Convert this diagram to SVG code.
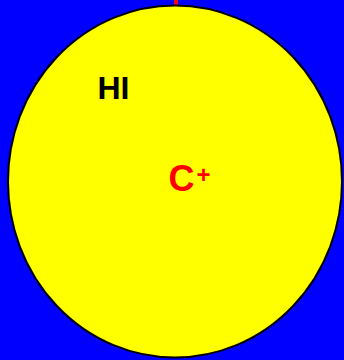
<svg xmlns="http://www.w3.org/2000/svg" width="344" height="360" viewBox="0 0 344 360">
<style>
.lbl{font-family:"Liberation Sans",Arial,sans-serif;font-weight:bold}
</style>
<rect width="344" height="360" fill="#0000ff"/>
<g id="connectors">
<line x1="176" y1="0" x2="176" y2="7" stroke="#ff0000" stroke-width="4"/>
</g>
<g id="region">
<ellipse cx="175" cy="181.5" rx="167" ry="176" fill="#ffff00" stroke="#000" stroke-width="2"/>
</g>
<g id="hi">
<text class="lbl" x="97.5" y="98.5" font-size="32" fill="#000">HI</text>
</g>
<g id="cplus">
<text class="lbl" x="168.5" y="191" font-size="36" fill="#ff0000">C<tspan font-size="24" dx="2" dy="-8.5">+</tspan></text>
</g>
</svg>
